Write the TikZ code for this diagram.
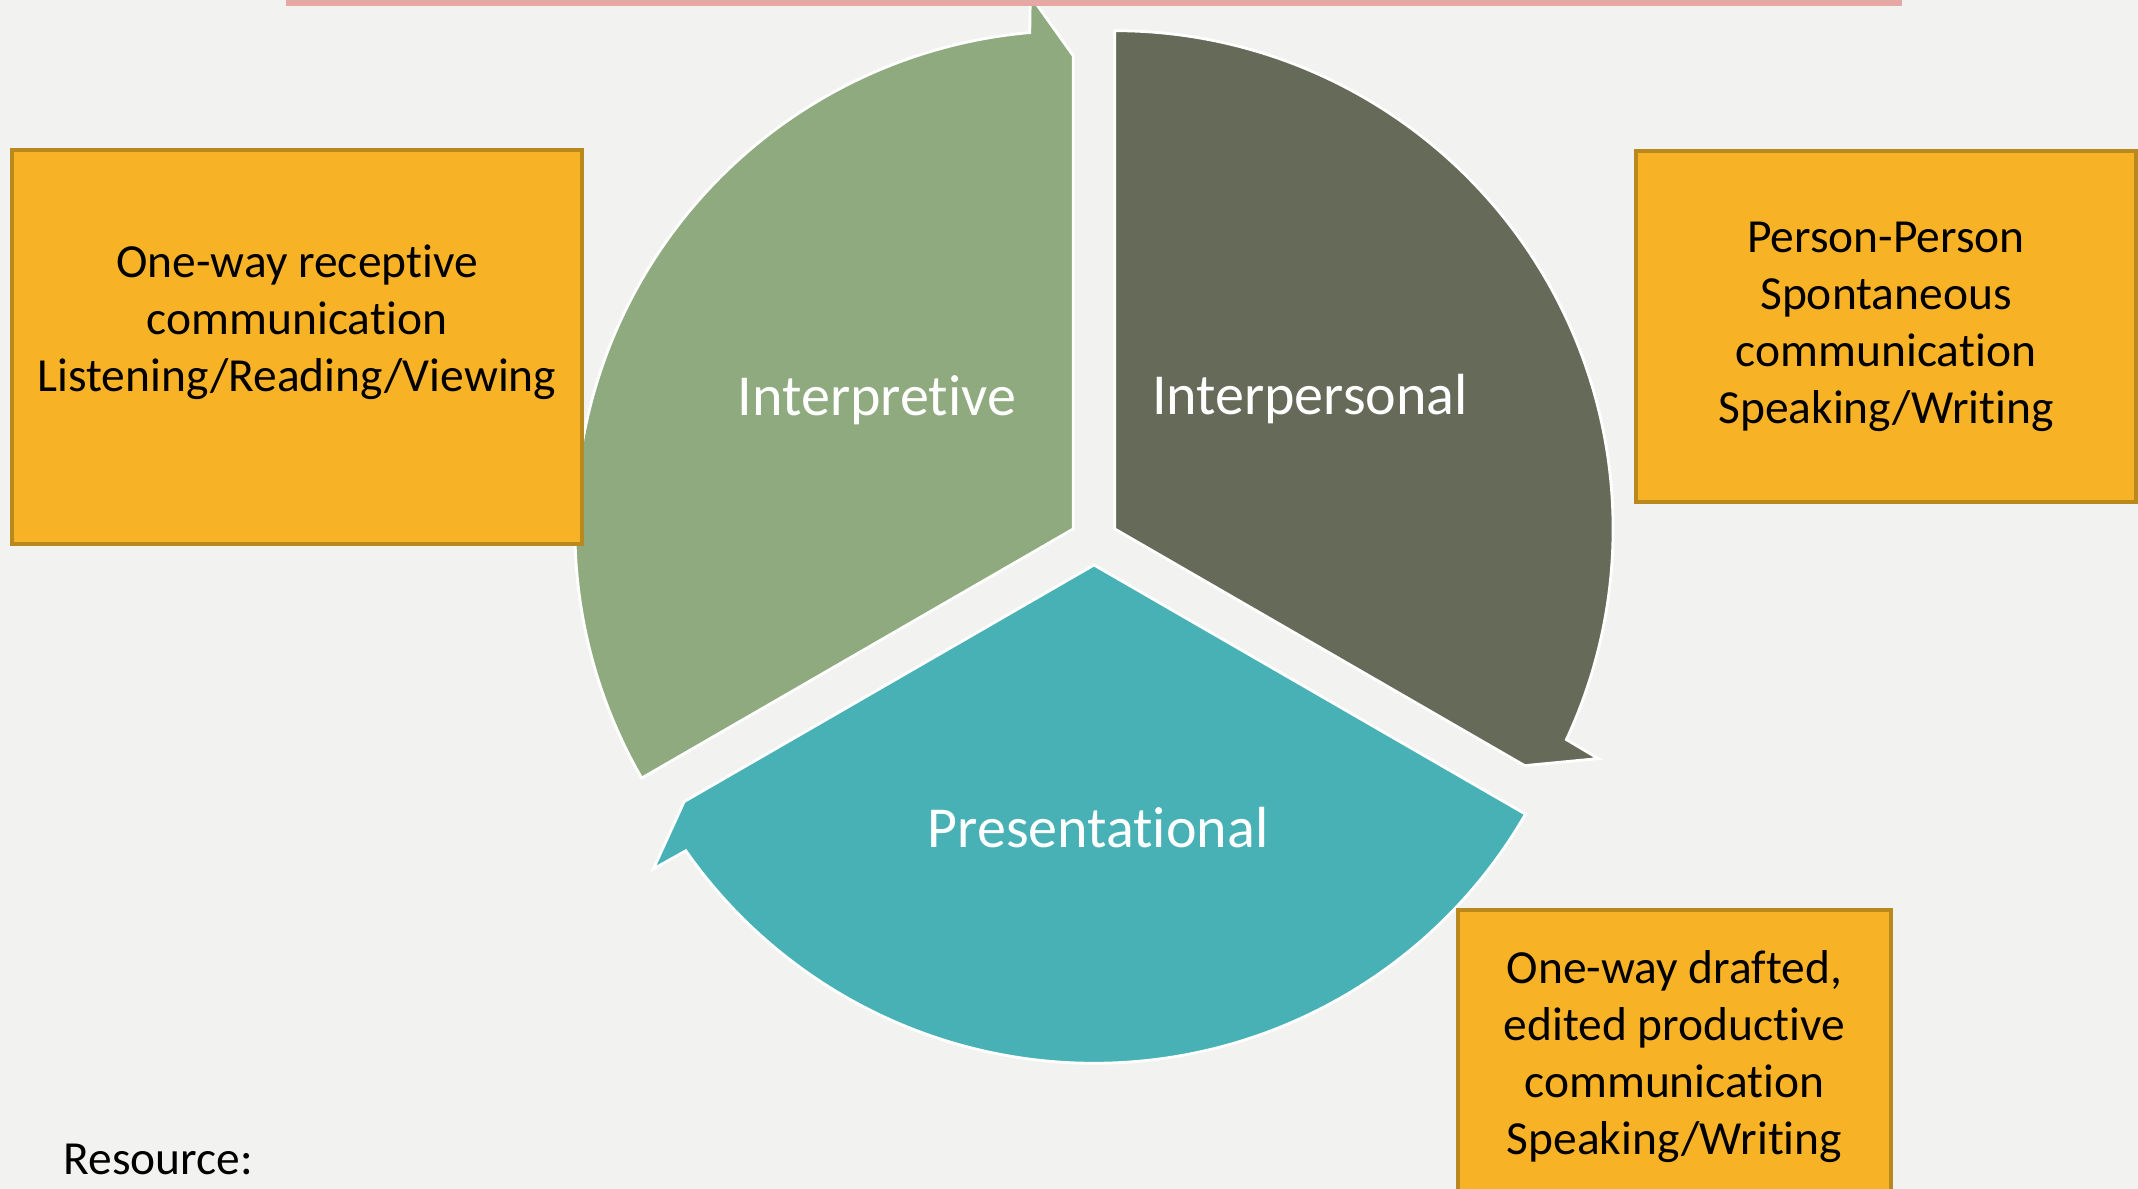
\documentclass[tikz,border=0pt]{standalone}
\usepackage{fontspec}
\setmainfont{Carlito}[Ligatures=NoCommon]
\definecolor{bgcol}{RGB}{242,242,240}
\definecolor{topbar}{RGB}{230,168,165}
\definecolor{greenseg}{RGB}{142,170,126}
\definecolor{greyseg}{RGB}{102,107,89}
\definecolor{tealseg}{RGB}{71,177,181}
\definecolor{boxfill}{RGB}{247,179,37}
\definecolor{boxline}{RGB}{186,137,30}

\begin{document}
\begin{tikzpicture}[x=0.01cm, y=0.01cm,
    seg/.style={draw=white, line width=0.8pt, line join=miter},
    infobox/.style={fill=boxfill, draw=boxline, line width=1.1pt, align=center,
        inner sep=0pt, font=\fontsize{13.5}{16.2}\selectfont},
    seglabel/.style={text=white, anchor=base, font=\fontsize{16.5}{20}\selectfont}]
    %background
    \fill[bgcol] (0,0) rectangle (2138,1189);
    \useasboundingbox (0,0) rectangle (2138,1189);
    %wedge centres
    \coordinate (gc) at (1073.2,660);
    \coordinate (pc) at (1114.8,660);
    \coordinate (tc) at (1094,624);
    %interpretive arrow
    \fill[greenseg, seg] (gc) -- ([shift={(210:4.98cm)}]gc)
        arc[start angle=210, end angle=95, radius=4.98cm]
        -- ([shift={(94.6:5.35cm)}]gc) -- ([shift={(90:4.73cm)}]gc) -- cycle;
    %interpersonal arrow
    \fill[greyseg, seg] (pc) -- ([shift={(90:4.98cm)}]pc)
        arc[start angle=90, end angle=-25, radius=4.98cm]
        -- ([shift={(-25.4:5.35cm)}]pc) -- ([shift={(-30:4.73cm)}]pc) -- cycle;
    %presentational arrow
    \fill[tealseg, seg] (tc) -- ([shift={(330:4.98cm)}]tc)
        arc[start angle=330, end angle=215, radius=4.98cm]
        -- ([shift={(214.6:5.35cm)}]tc) -- ([shift={(210:4.73cm)}]tc) -- cycle;
    %mode names
    \node[seglabel] (interp) at (877,773) {Interpretive};
    \node[seglabel] (inters) at (1310,774) {Interpersonal};
    \node[seglabel] (pres) at (1098,341) {Presentational};
    %top bar
    \fill[topbar] (286,1183) rectangle (1902,1189);
    %boxes
    \node[infobox, minimum width=5.7cm, minimum height=3.94cm] (recv) at (297,842)
        {One-way receptive\\communication\\Listening/Reading/Viewing\\\mbox{}};
    \node[infobox, minimum width=5.0cm, minimum height=3.51cm] (spont) at (1886,862.5)
        {Person-Person\\Spontaneous\\communication\\Speaking/Writing};
    \node[infobox, minimum width=4.33cm, minimum height=2.94cm] (draft) at (1674.5,132)
        {One-way drafted,\\edited productive\\communication\\Speaking/Writing};
    %resource
    \node[anchor=base west, inner sep=0pt, font=\fontsize{13.5}{16.2}\selectfont] (res) at (63,14) {Resource:};
\end{tikzpicture}
\end{document}
